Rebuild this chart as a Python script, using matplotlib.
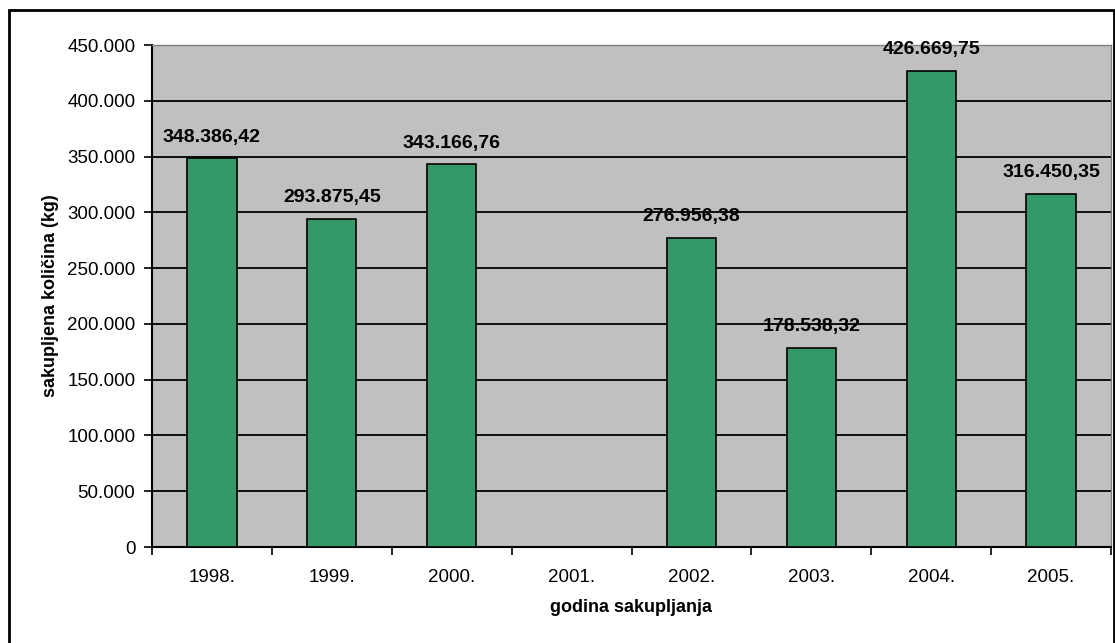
import matplotlib.pyplot as plt
import matplotlib.ticker as mticker
from matplotlib.patches import Rectangle
import numpy as np

plt.rcParams['font.family'] = ['Liberation Sans', 'DejaVu Sans']

years = ['1998.', '1999.', '2000.', '2001.', '2002.', '2003.', '2004.', '2005.']
amounts = [348386.42, 293875.45, 343166.76, np.nan, 276956.38, 178538.32, 426669.75, 316450.35]


def fmt_thousands(v, pos=None):
    return f'{int(round(v)):,}'.replace(',', '.')


def fmt_value(v):
    s = f'{v:,.2f}'
    return s.replace(',', 'X').replace('.', ',').replace('X', '.')


fig = plt.figure(figsize=(11.15, 6.43), dpi=100)
ax = fig.add_axes([152 / 1115, 96 / 643, 959 / 1115, 502 / 643])
ax.set_facecolor('#C0C0C0')

x = np.arange(len(years))
ax.bar(x, amounts, width=0.41, color='#339966', edgecolor='black', linewidth=1.2, zorder=3)

for xi, v in zip(x, amounts):
    if not np.isnan(v):
        ax.annotate(fmt_value(v), (xi, v), xytext=(0, 12), textcoords='offset points',
                    ha='center', va='baseline', fontsize=14, fontweight='bold',
                    zorder=4, annotation_clip=False)

ax.set_xlim(-0.5, len(years) - 0.5)
ax.set_ylim(0, 450000)
ax.yaxis.set_major_locator(mticker.MultipleLocator(50000))
ax.yaxis.set_major_formatter(mticker.FuncFormatter(fmt_thousands))
ax.yaxis.grid(True, color='black', linewidth=1.3, zorder=1)
ax.set_axisbelow(True)

ax.set_xticks(np.arange(-0.5, len(years), 1.0))
ax.set_xticklabels([])
ax.set_xticks(x, minor=True)
ax.set_xticklabels(years, minor=True)
ax.tick_params(axis='x', which='major', length=6, width=1.2, direction='out')
ax.tick_params(axis='x', which='minor', length=0, pad=16, labelsize=13.5)
ax.tick_params(axis='y', length=6, width=1.2, direction='out', labelsize=13.5, pad=6)

for side in ['left', 'bottom']:
    ax.spines[side].set_linewidth(1.5)
    ax.spines[side].set_color('black')
for side in ['top', 'right']:
    ax.spines[side].set_color('#808080')
    ax.spines[side].set_linewidth(1.0)

ax.set_xlabel('godina sakupljanja', fontsize=13, fontweight='bold')
ax.set_ylabel('sakupljena količina (kg)', fontsize=13, fontweight='bold')
ax.xaxis.set_label_coords(0.5, -0.12)
ax.yaxis.set_label_coords(-0.106, 0.5)
ax.xaxis.label.set_va('center')
ax.yaxis.label.set_va('center')

fig.patches.append(Rectangle((9 / 1115, -0.01), 1105 / 1115, 633 / 643 + 0.01,
                             transform=fig.transFigure, fill=False,
                             edgecolor='black', linewidth=2))

fig.savefig('out.png', dpi=100)
